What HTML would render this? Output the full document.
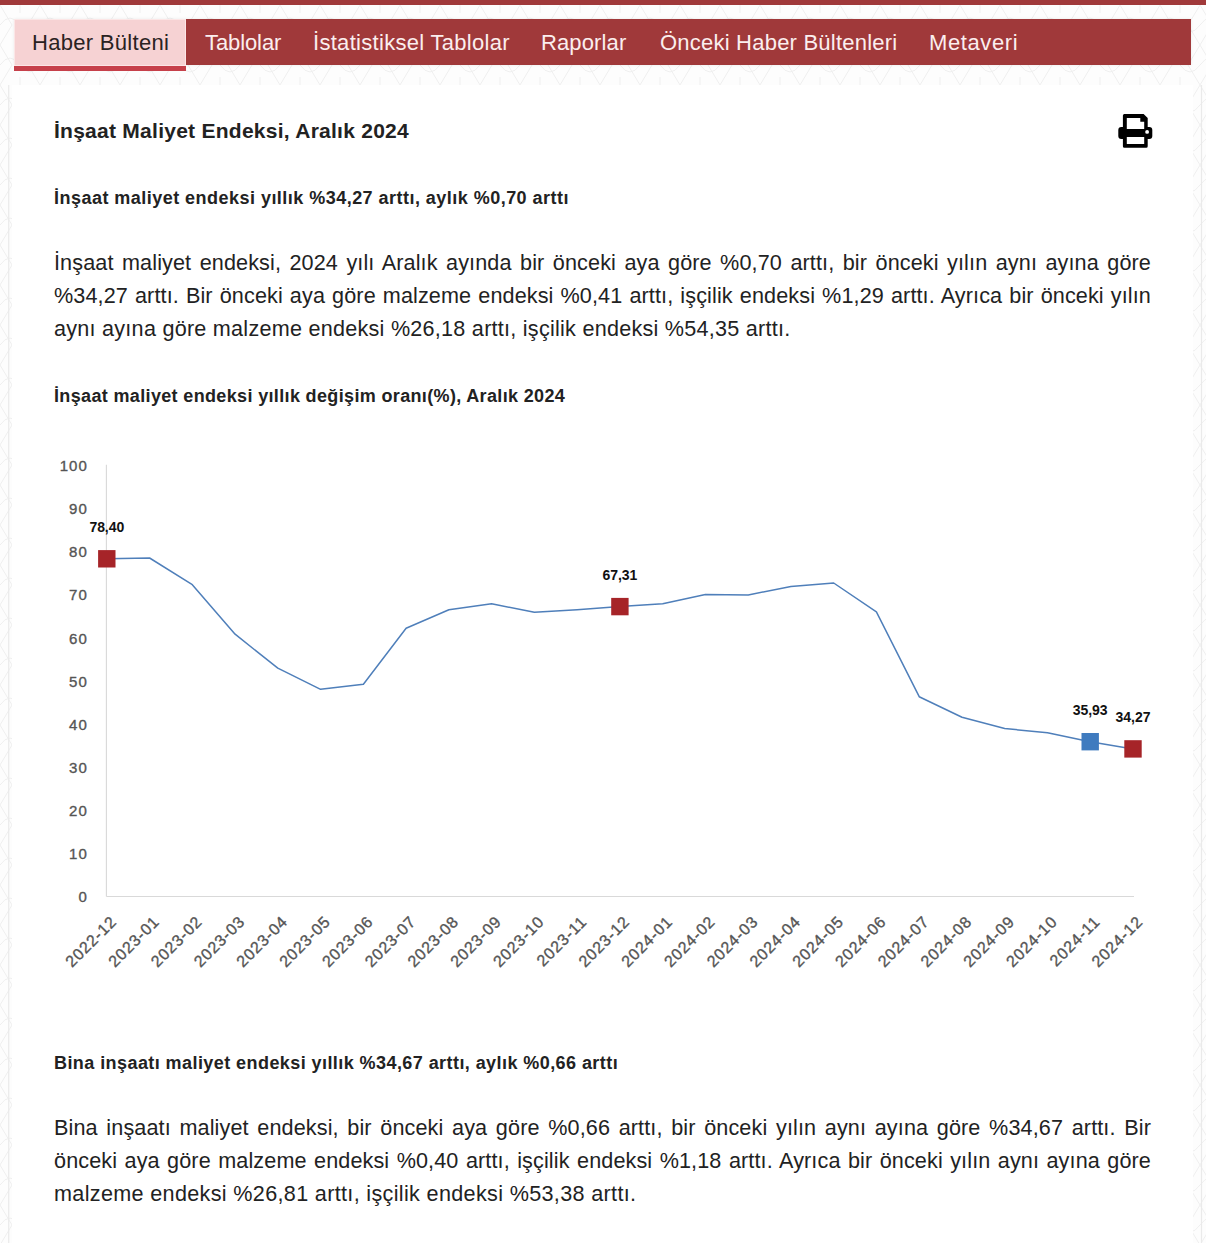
<!DOCTYPE html>
<html lang="tr">
<head>
<meta charset="utf-8">
<style>
html,body{margin:0;padding:0;}
body{width:1206px;height:1243px;overflow:hidden;background:#fbfbfb;font-family:"Liberation Sans",sans-serif;color:#222;position:relative;}
.topbar{position:absolute;left:0;top:0;width:1206px;height:5px;background:#a0393a;}
.band{position:absolute;left:0;top:5px;width:1206px;height:80px;background:#f7f7f7;}
.content{position:absolute;left:12px;top:85px;width:1181px;height:1158px;background:#fff;}
.nav{position:absolute;left:14px;top:19px;width:1177px;height:46px;background:#a0393a;box-shadow:0 0 3px rgba(0,0,0,0.08);}
.tab-active{position:absolute;left:14px;top:19px;width:170px;height:45px;background:#f6d2d3;border:1px solid #fce6e6;border-bottom-width:2px;}
.tab-line{position:absolute;left:14px;top:66px;width:172px;height:4.5px;background:#c6404a;}
.navtxt{position:absolute;top:0;height:46px;line-height:46px;font-size:22px;letter-spacing:0.3px;color:#fbeeee;white-space:nowrap;}
.navtxt.act{color:#2a2222;}
.abs{position:absolute;white-space:nowrap;}
h1{position:absolute;margin:0;left:54px;font-size:21px;letter-spacing:0.26px;font-weight:bold;color:#222;white-space:nowrap;}
.sub{position:absolute;margin:0;left:54px;font-size:18px;letter-spacing:0.5px;font-weight:bold;color:#222;white-space:nowrap;}
.para{position:absolute;left:54px;width:1097px;font-size:21.6px;letter-spacing:0.2px;line-height:33px;color:#222;text-align:justify;}
.para span.l{display:block;letter-spacing:0.12px;text-align:justify;text-align-last:justify;white-space:nowrap;}
.para span.last{display:block;text-align:left;white-space:nowrap;}
svg text{font-family:"Liberation Sans",sans-serif;}
</style>
</head>
<body>
<svg class="abs" style="left:0;top:0;" width="1206" height="1243">
<defs><pattern id="pt" x="0" y="5" width="40" height="40" patternUnits="userSpaceOnUse">
<path d="M0 20 Q10 6 20 20 T40 20 M0 0 L12 20 L0 40 M40 0 L28 20 L40 40 M20 0 V8 M20 32 V40" fill="none" stroke="#efefef" stroke-width="1"/>
</pattern></defs>
<rect x="0" y="0" width="1206" height="1243" fill="#fdfdfd"/>
<rect x="0" y="0" width="1206" height="1243" fill="url(#pt)"/>
<line x1="8.7" y1="85" x2="8.7" y2="1243" stroke="#eaeaea" stroke-width="1.2"/>
<line x1="1201.5" y1="85" x2="1201.5" y2="1243" stroke="#eaeaea" stroke-width="1.2"/>
</svg>
<div class="topbar"></div>
<div class="content"></div>

<div class="nav"></div>
<div class="tab-active"></div>
<div class="tab-line"></div>
<div class="navtxt act" style="left:32px;top:19.5px;">Haber Bülteni</div>
<div class="navtxt" style="left:205px;top:19.5px;letter-spacing:-0.1px;">Tablolar</div>
<div class="navtxt" style="left:313px;top:19.5px;">İstatistiksel Tablolar</div>
<div class="navtxt" style="left:541px;top:19.5px;letter-spacing:0.12px;">Raporlar</div>
<div class="navtxt" style="left:660px;top:19.5px;letter-spacing:0.22px;">Önceki Haber Bültenleri</div>
<div class="navtxt" style="left:929px;top:19.5px;letter-spacing:0.6px;">Metaveri</div>

<h1 style="top:119px;">İnşaat Maliyet Endeksi, Aralık 2024</h1>

<!-- print icon -->
<svg class="abs" style="left:1110px;top:105px;" width="50" height="50" viewBox="0 0 50 50">
<path fill-rule="evenodd" fill="#000" d="M14.4 8.9 H33.6 L37.7 13 V22 H39.3 A3 3 0 0 1 42.3 25 V31 A3 3 0 0 1 39.3 34 H37.7 V41.2 A1.5 1.5 0 0 1 36.2 42.7 H14.4 A1.5 1.5 0 0 1 12.9 41.2 V34 H11.3 A3 3 0 0 1 8.3 31 V25 A3 3 0 0 1 11.3 22 H12.9 V10.4 A1.5 1.5 0 0 1 14.4 8.9 Z M16.8 12.9 H30.3 V16.8 H34.2 V24.0 H16.8 Z M16.8 31.9 H34.2 V39 H16.8 Z"/>
<circle cx="37.1" cy="26.9" r="1.9" fill="#fff"/>
</svg>

<div class="sub" style="top:188px;letter-spacing:0.47px;">İnşaat maliyet endeksi yıllık %34,27 arttı, aylık %0,70 arttı</div>

<div class="para" style="top:246px;">
<span class="l">İnşaat maliyet endeksi, 2024 yılı Aralık ayında bir önceki aya göre %0,70 arttı, bir önceki yılın aynı ayına göre</span>
<span class="l">%34,27 arttı. Bir önceki aya göre malzeme endeksi %0,41 arttı, işçilik endeksi %1,29 arttı. Ayrıca bir önceki yılın</span>
<span class="last" style="letter-spacing:0.25px">aynı ayına göre malzeme endeksi %26,18 arttı, işçilik endeksi %54,35 arttı.</span>
</div>

<div class="sub" style="top:386px;letter-spacing:0.35px;">İnşaat maliyet endeksi yıllık değişim oranı(%), Aralık 2024</div>

<!-- CHART -->
<svg id="chart" class="abs" style="left:0;top:0;" width="1206" height="1243">
<g fill="none">
<line x1="106.4" y1="464.8" x2="106.4" y2="896.5" stroke="#d9d9d9" stroke-width="1.1"/>
<line x1="106.4" y1="896.5" x2="1134.0" y2="896.5" stroke="#d9d9d9" stroke-width="1.1"/>
</g>
<text x="87.8" y="901.9" text-anchor="end" font-size="15" letter-spacing="1.0" fill="#555" stroke="#555" stroke-width="0.35">0</text>
<text x="87.8" y="858.8" text-anchor="end" font-size="15" letter-spacing="1.0" fill="#555" stroke="#555" stroke-width="0.35">10</text>
<text x="87.8" y="815.8" text-anchor="end" font-size="15" letter-spacing="1.0" fill="#555" stroke="#555" stroke-width="0.35">20</text>
<text x="87.8" y="772.7" text-anchor="end" font-size="15" letter-spacing="1.0" fill="#555" stroke="#555" stroke-width="0.35">30</text>
<text x="87.8" y="729.6" text-anchor="end" font-size="15" letter-spacing="1.0" fill="#555" stroke="#555" stroke-width="0.35">40</text>
<text x="87.8" y="686.5" text-anchor="end" font-size="15" letter-spacing="1.0" fill="#555" stroke="#555" stroke-width="0.35">50</text>
<text x="87.8" y="643.5" text-anchor="end" font-size="15" letter-spacing="1.0" fill="#555" stroke="#555" stroke-width="0.35">60</text>
<text x="87.8" y="600.4" text-anchor="end" font-size="15" letter-spacing="1.0" fill="#555" stroke="#555" stroke-width="0.35">70</text>
<text x="87.8" y="557.3" text-anchor="end" font-size="15" letter-spacing="1.0" fill="#555" stroke="#555" stroke-width="0.35">80</text>
<text x="87.8" y="514.3" text-anchor="end" font-size="15" letter-spacing="1.0" fill="#555" stroke="#555" stroke-width="0.35">90</text>
<text x="87.8" y="471.2" text-anchor="end" font-size="15" letter-spacing="1.0" fill="#555" stroke="#555" stroke-width="0.35">100</text>
<polyline points="106.8,558.8 149.6,558.0 192.3,584.7 235.1,634.2 277.8,668.2 320.6,689.3 363.4,684.2 406.1,628.2 448.9,609.7 491.6,603.8 534.4,612.2 577.1,609.7 619.9,606.6 662.7,603.8 705.4,594.6 748.2,595.0 790.9,586.4 833.7,583.0 876.4,611.8 919.2,696.7 962.0,717.3 1004.7,728.5 1047.5,732.8 1090.2,741.7 1133.0,748.9" fill="none" stroke="#4f7fba" stroke-width="1.5" stroke-linejoin="round"/>
<rect x="98.1" y="550.1" width="17.4" height="17.4" fill="#a62428"/>
<text x="106.8" y="531.8" text-anchor="middle" font-size="14" font-weight="bold" letter-spacing="-0.05" fill="#111">78,40</text>
<rect x="611.2" y="597.9" width="17.4" height="17.4" fill="#a62428"/>
<text x="619.9" y="579.6" text-anchor="middle" font-size="14" font-weight="bold" letter-spacing="-0.05" fill="#111">67,31</text>
<rect x="1081.5" y="733.0" width="17.4" height="17.4" fill="#3f7bbf"/>
<text x="1090.2" y="714.7" text-anchor="middle" font-size="14" font-weight="bold" letter-spacing="-0.05" fill="#111">35,93</text>
<rect x="1124.3" y="740.2" width="17.4" height="17.4" fill="#a62428"/>
<text x="1133.0" y="721.9" text-anchor="middle" font-size="14" font-weight="bold" letter-spacing="-0.05" fill="#111">34,27</text>
<text x="0" y="0" transform="translate(117.6,922.6) rotate(-45)" text-anchor="end" font-size="16" letter-spacing="0.8" fill="#555" stroke="#555" stroke-width="0.35">2022-12</text>
<text x="0" y="0" transform="translate(160.4,922.6) rotate(-45)" text-anchor="end" font-size="16" letter-spacing="0.8" fill="#555" stroke="#555" stroke-width="0.35">2023-01</text>
<text x="0" y="0" transform="translate(203.1,922.6) rotate(-45)" text-anchor="end" font-size="16" letter-spacing="0.8" fill="#555" stroke="#555" stroke-width="0.35">2023-02</text>
<text x="0" y="0" transform="translate(245.9,922.6) rotate(-45)" text-anchor="end" font-size="16" letter-spacing="0.8" fill="#555" stroke="#555" stroke-width="0.35">2023-03</text>
<text x="0" y="0" transform="translate(288.6,922.6) rotate(-45)" text-anchor="end" font-size="16" letter-spacing="0.8" fill="#555" stroke="#555" stroke-width="0.35">2023-04</text>
<text x="0" y="0" transform="translate(331.4,922.6) rotate(-45)" text-anchor="end" font-size="16" letter-spacing="0.8" fill="#555" stroke="#555" stroke-width="0.35">2023-05</text>
<text x="0" y="0" transform="translate(374.2,922.6) rotate(-45)" text-anchor="end" font-size="16" letter-spacing="0.8" fill="#555" stroke="#555" stroke-width="0.35">2023-06</text>
<text x="0" y="0" transform="translate(416.9,922.6) rotate(-45)" text-anchor="end" font-size="16" letter-spacing="0.8" fill="#555" stroke="#555" stroke-width="0.35">2023-07</text>
<text x="0" y="0" transform="translate(459.7,922.6) rotate(-45)" text-anchor="end" font-size="16" letter-spacing="0.8" fill="#555" stroke="#555" stroke-width="0.35">2023-08</text>
<text x="0" y="0" transform="translate(502.4,922.6) rotate(-45)" text-anchor="end" font-size="16" letter-spacing="0.8" fill="#555" stroke="#555" stroke-width="0.35">2023-09</text>
<text x="0" y="0" transform="translate(545.2,922.6) rotate(-45)" text-anchor="end" font-size="16" letter-spacing="0.8" fill="#555" stroke="#555" stroke-width="0.35">2023-10</text>
<text x="0" y="0" transform="translate(587.9,922.6) rotate(-45)" text-anchor="end" font-size="16" letter-spacing="0.8" fill="#555" stroke="#555" stroke-width="0.35">2023-11</text>
<text x="0" y="0" transform="translate(630.7,922.6) rotate(-45)" text-anchor="end" font-size="16" letter-spacing="0.8" fill="#555" stroke="#555" stroke-width="0.35">2023-12</text>
<text x="0" y="0" transform="translate(673.5,922.6) rotate(-45)" text-anchor="end" font-size="16" letter-spacing="0.8" fill="#555" stroke="#555" stroke-width="0.35">2024-01</text>
<text x="0" y="0" transform="translate(716.2,922.6) rotate(-45)" text-anchor="end" font-size="16" letter-spacing="0.8" fill="#555" stroke="#555" stroke-width="0.35">2024-02</text>
<text x="0" y="0" transform="translate(759.0,922.6) rotate(-45)" text-anchor="end" font-size="16" letter-spacing="0.8" fill="#555" stroke="#555" stroke-width="0.35">2024-03</text>
<text x="0" y="0" transform="translate(801.7,922.6) rotate(-45)" text-anchor="end" font-size="16" letter-spacing="0.8" fill="#555" stroke="#555" stroke-width="0.35">2024-04</text>
<text x="0" y="0" transform="translate(844.5,922.6) rotate(-45)" text-anchor="end" font-size="16" letter-spacing="0.8" fill="#555" stroke="#555" stroke-width="0.35">2024-05</text>
<text x="0" y="0" transform="translate(887.2,922.6) rotate(-45)" text-anchor="end" font-size="16" letter-spacing="0.8" fill="#555" stroke="#555" stroke-width="0.35">2024-06</text>
<text x="0" y="0" transform="translate(930.0,922.6) rotate(-45)" text-anchor="end" font-size="16" letter-spacing="0.8" fill="#555" stroke="#555" stroke-width="0.35">2024-07</text>
<text x="0" y="0" transform="translate(972.8,922.6) rotate(-45)" text-anchor="end" font-size="16" letter-spacing="0.8" fill="#555" stroke="#555" stroke-width="0.35">2024-08</text>
<text x="0" y="0" transform="translate(1015.5,922.6) rotate(-45)" text-anchor="end" font-size="16" letter-spacing="0.8" fill="#555" stroke="#555" stroke-width="0.35">2024-09</text>
<text x="0" y="0" transform="translate(1058.3,922.6) rotate(-45)" text-anchor="end" font-size="16" letter-spacing="0.8" fill="#555" stroke="#555" stroke-width="0.35">2024-10</text>
<text x="0" y="0" transform="translate(1101.0,922.6) rotate(-45)" text-anchor="end" font-size="16" letter-spacing="0.8" fill="#555" stroke="#555" stroke-width="0.35">2024-11</text>
<text x="0" y="0" transform="translate(1143.8,922.6) rotate(-45)" text-anchor="end" font-size="16" letter-spacing="0.8" fill="#555" stroke="#555" stroke-width="0.35">2024-12</text>
</svg>

<div class="sub" style="top:1053px;letter-spacing:0.43px;">Bina inşaatı maliyet endeksi yıllık %34,67 arttı, aylık %0,66 arttı</div>

<div class="para" style="top:1111px;">
<span class="l">Bina inşaatı maliyet endeksi, bir önceki aya göre %0,66 arttı, bir önceki yılın aynı ayına göre %34,67 arttı. Bir</span>
<span class="l">önceki aya göre malzeme endeksi %0,40 arttı, işçilik endeksi %1,18 arttı. Ayrıca bir önceki yılın aynı ayına göre</span>
<span class="last" style="letter-spacing:0.33px">malzeme endeksi %26,81 arttı, işçilik endeksi %53,38 arttı.</span>
</div>
</body>
</html>
